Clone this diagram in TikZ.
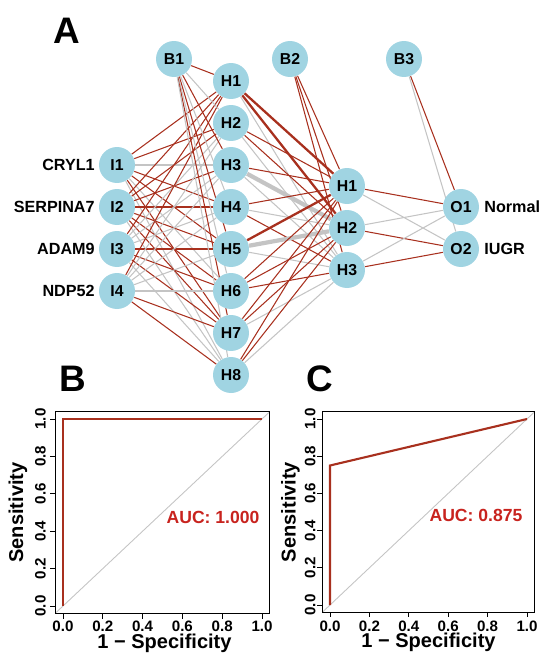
\documentclass[tikz,border=0pt]{standalone}
\usepackage{fontspec}
\setmainfont{Liberation Sans}
\usetikzlibrary{backgrounds}

\definecolor{nodeblue}{RGB}{160,212,226}
\definecolor{poscol}{RGB}{168,48,30}
\definecolor{negcol}{RGB}{196,196,196}
\definecolor{auccol}{RGB}{200,35,30}

\tikzset{
  neuron/.style={circle,fill=nodeblue,minimum size=0.72cm,inner sep=0pt,font=\bfseries\fontsize{9}{10}\selectfont},
  genelab/.style={anchor=east,inner sep=0pt,font=\bfseries\fontsize{9.2}{10}\selectfont},
  outlab/.style={anchor=west,inner sep=0pt,font=\bfseries\fontsize{9.2}{10}\selectfont},
  poswt/.style={draw=poscol,line width=0.6pt},
  negwt/.style={draw=negcol,line width=0.6pt},
  poswide/.style={draw=poscol,line width=1.3pt},
  negwide/.style={draw=negcol,line width=2.4pt},
  panel/.style={font=\bfseries\fontsize{21}{24}\selectfont},
  ticklab/.style={inner sep=0pt,anchor=base,font=\bfseries\fontsize{8.6}{9}\selectfont},
  axlab/.style={inner sep=0pt,anchor=base,font=\bfseries\fontsize{11.4}{13}\selectfont},
  auclab/.style={inner sep=0pt,text=auccol,font=\bfseries\fontsize{10}{11}\selectfont},
  roc/.style={draw=poscol,line width=1.2pt},
}

\begin{document}
\begin{tikzpicture}[x=0.02cm,y=-0.02cm]
\useasboundingbox (0,0) rectangle (550,663);

% network
\node[panel] (pa) at (67,31) {A};
\node[neuron] (b1) at (174,59) {B1};
\node[neuron] (b2) at (290,59) {B2};
\node[neuron] (b3) at (404,59) {B3};
\foreach \n/\y in {1/165,2/207,3/249,4/291}
  \node[neuron] (i\n) at (117,\y) {I\n};
\foreach \n/\y in {1/81,2/123,3/165,4/207,5/249,6/291,7/333,8/375}
  \node[neuron] (h\n) at (231,\y) {H\n};
\foreach \n/\y in {1/186,2/228,3/270}
  \node[neuron] (k\n) at (347,\y) {H\n};
\node[neuron] (o1) at (461,207) {O1};
\node[neuron] (o2) at (461,249) {O2};

\node[genelab] (g1) at (95,165) {CRYL1};
\node[genelab] (g2) at (95,207) {SERPINA7};
\node[genelab] (g3) at (95,249) {ADAM9};
\node[genelab] (g4) at (95,291) {NDP52};
\node[outlab] (c1) at (484,207) {Normal};
\node[outlab] (c2) at (484,249) {IUGR};

\begin{scope}[on background layer]
  \foreach \a/\b/\s in {
    i1/h1/poswt, i1/h2/poswt, i1/h3/negwt, i1/h4/poswt, i1/h5/poswt, i1/h6/negwt, i1/h7/poswt, i1/h8/negwt,
    i2/h1/poswt, i2/h2/poswt, i2/h3/poswt, i2/h4/poswt, i2/h5/poswt, i2/h6/poswt, i2/h7/poswt, i2/h8/negwt,
    i3/h1/poswt, i3/h2/negwt, i3/h3/negwt, i3/h4/negwt, i3/h5/poswt, i3/h6/poswt, i3/h7/poswt, i3/h8/negwt,
    i4/h1/poswt, i4/h2/negwt, i4/h3/negwt, i4/h4/negwt, i4/h5/negwt, i4/h6/negwt, i4/h7/poswt, i4/h8/poswt,
    b1/h1/poswt, b1/h2/negwt, b1/h3/poswt, b1/h4/negwt, b1/h5/poswt, b1/h6/negwt, b1/h7/poswt, b1/h8/negwt}
    \draw[\s] (\a) -- (\b);
  \foreach \a/\b/\s in {
    h1/k1/poswide, h1/k2/poswide, h1/k3/negwt,
    h2/k1/poswt, h2/k2/poswt, h2/k3/negwt,
    h3/k1/poswt, h3/k2/negwide, h3/k3/negwt,
    h4/k1/poswt, h4/k2/negwt, h4/k3/poswt,
    h5/k1/poswide, h5/k2/negwide, h5/k3/negwt,
    h6/k1/poswt, h6/k2/poswt, h6/k3/poswt,
    h7/k1/poswt, h7/k2/poswt, h7/k3/negwt,
    h8/k1/poswt, h8/k2/poswt, h8/k3/negwt,
    b2/k1/poswt, b2/k2/poswt, b2/k3/poswt,
    k1/o1/poswt, k1/o2/negwt, k2/o1/negwt, k2/o2/poswt,
    k3/o1/negwt, k3/o2/poswt, b3/o1/poswt, b3/o2/negwt}
    \draw[\s] (\a) -- (\b);
\end{scope}

% ROC for the training set
\node[panel] (pb) at (73,379) {B};
\begin{scope}[shift={(63,606)},xscale=199,yscale=-187]
  \begin{scope}
    \clip (-0.04,-0.04) rectangle (1.04,1.04);
    \draw[negcol,line width=0.5pt] (-0.04,-0.04) -- (1.04,1.04);
  \end{scope}
  \draw[line width=0.6pt] (-0.04,-0.04) rectangle (1.04,1.04);
  \foreach \t/\l in {0/0.0,0.2/0.2,0.4/0.4,0.6/0.6,0.8/0.8,1/1.0} {
    \draw[line width=0.5pt] (\t,-0.04) -- (\t,-0.067);
    \draw[line width=0.5pt] (-0.04,\t) -- (-0.067,\t);
    \node[ticklab] at (\t,-0.134) {\l};
    \node[ticklab,rotate=90] at (-0.087,\t) {\l};
  }
  \node[axlab] at (0.51,-0.225) {1 − Specificity};
  \node[axlab,rotate=90] at (-0.2,0.5) {Sensitivity};
  \draw[roc] (0,0) -- (0,1) -- (1,1);
  \node[auclab] at (0.754,0.476) {AUC: 1.000};
\end{scope}

% ROC for the test set
\node[panel] (pc) at (320,379) {C};
\begin{scope}[shift={(330,605)},xscale=197,yscale=-186]
  \begin{scope}
    \clip (-0.04,-0.04) rectangle (1.04,1.04);
    \draw[negcol,line width=0.5pt] (-0.04,-0.04) -- (1.04,1.04);
  \end{scope}
  \draw[line width=0.6pt] (-0.04,-0.04) rectangle (1.04,1.04);
  \foreach \t/\l in {0/0.0,0.2/0.2,0.4/0.4,0.6/0.6,0.8/0.8,1/1.0} {
    \draw[line width=0.5pt] (\t,-0.04) -- (\t,-0.067);
    \draw[line width=0.5pt] (-0.04,\t) -- (-0.067,\t);
    \node[ticklab] at (\t,-0.14) {\l};
    \node[ticklab,rotate=90] at (-0.074,\t) {\l};
  }
  \node[axlab] at (0.5,-0.231) {1 − Specificity};
  \node[axlab,rotate=90] at (-0.174,0.5) {Sensitivity};
  \draw[roc] (0,0) -- (0,0.75) -- (1,1);
  \node[auclab] at (0.741,0.484) {AUC: 0.875};
\end{scope}
\end{tikzpicture}
\end{document}
